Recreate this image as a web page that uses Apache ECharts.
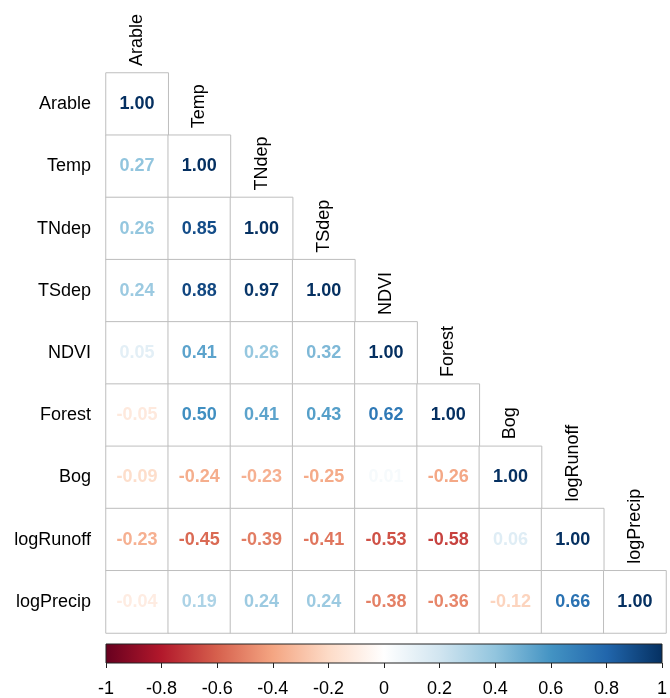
<!DOCTYPE html>
<html>
<head>
<meta charset="utf-8">
<script src="https://cdn.jsdelivr.net/npm/echarts@6/dist/echarts.min.js"></script>
<style>html,body{margin:0;padding:0;background:#fff}#c{width:670px;height:698px}</style>
</head>
<body>
<div id="c"></div>
<script>
var variables = ['Arable','Temp','TNdep','TSdep','NDVI','Forest','Bog','logRunoff','logPrecip'];
// lower-triangle correlation rows (row i has i+1 values, columns 0..i)
var rowArable   = [1.00];
var rowTemp     = [0.27, 1.00];
var rowTNdep    = [0.26, 0.85, 1.00];
var rowTSdep    = [0.24, 0.88, 0.97, 1.00];
var rowNDVI     = [0.05, 0.41, 0.26, 0.32, 1.00];
var rowForest   = [-0.05, 0.50, 0.41, 0.43, 0.62, 1.00];
var rowBog      = [-0.09, -0.24, -0.23, -0.25, 0.01, -0.26, 1.00];
var rowLogRunoff= [-0.23, -0.45, -0.39, -0.41, -0.53, -0.58, 0.06, 1.00];
var rowLogPrecip= [-0.04, 0.19, 0.24, 0.24, -0.38, -0.36, -0.12, 0.66, 1.00];
var corrRows = [rowArable,rowTemp,rowTNdep,rowTSdep,rowNDVI,rowForest,rowBog,rowLogRunoff,rowLogPrecip];
var colorbarTicks = [-1,-0.8,-0.6,-0.4,-0.2,0,0.2,0.4,0.6,0.8,1];
var palette = ['#67001F','#B2182B','#D6604D','#F4A582','#FDDBC7','#FFFFFF','#D1E5F0','#92C5DE','#4393C3','#2166AC','#053061'];

function hex2rgb(h){return [parseInt(h.substr(1,2),16),parseInt(h.substr(3,2),16),parseInt(h.substr(5,2),16)];}
function colorFor(v){
  var w = (v < 0 ? -1 : 1) * Math.pow(Math.abs(v), 0.7);
  var t = (w + 1) / 2 * (palette.length - 1);
  var i = Math.floor(t); if (i >= palette.length - 1) { i = palette.length - 2; }
  var f = t - i;
  var a = hex2rgb(palette[i]), b = hex2rgb(palette[i+1]);
  var c = a.map(function(x,k){return Math.round(x + (b[k]-x)*f);});
  return 'rgb(' + c.join(',') + ')';
}

var cells = [];
corrRows.forEach(function(row, r){
  row.forEach(function(v, c){
    cells.push({value:[c, r, v], label:{color: colorFor(v)}});
  });
});
var diag = variables.map(function(n,i){return [i,i];});

var stops = palette.map(function(c,i){return {offset:i/(palette.length-1), color:c};});

var chart = echarts.init(document.getElementById('c'));
var font = '"Liberation Sans", Arial, sans-serif';
chart.setOption({
  animation:false,
  backgroundColor:'#fff',
  grid:[
    {left:106, top:73, width:560, height:560},
    {left:106, top:644, width:560, height:22, show:true,
     backgroundColor:new echarts.graphic.LinearGradient(0,0,1,0,stops),
     borderColor:'#222', borderWidth:1}
  ],
  xAxis:[
    {type:'category', gridIndex:0, data:variables, show:false},
    {type:'value', gridIndex:1, min:-1, max:1, interval:0.2,
     axisLine:{show:false}, splitLine:{show:false},
     axisTick:{show:true, inside:false, length:5, lineStyle:{color:'#222'}},
     axisLabel:{color:'#000', fontFamily:font, fontSize:18, margin:17,
       formatter:function(v){var r=Math.round(v*10)/10; return colorbarTicks.indexOf(r)>=0 ? String(r) : '';}}}
  ],
  yAxis:[
    {type:'category', gridIndex:0, data:variables, inverse:true,
     axisLine:{show:false}, axisTick:{show:false}, splitLine:{show:false},
     axisLabel:{color:'#000', fontFamily:font, fontSize:18, margin:15}},
    {type:'value', gridIndex:1, min:0, max:1, show:false}
  ],
  series:[
    {type:'heatmap', xAxisIndex:0, yAxisIndex:0, data:cells,
     itemStyle:{color:'#fff', borderColor:'#bebebe', borderWidth:1},
     label:{show:true, fontFamily:font, fontSize:18, fontWeight:'bold',
       formatter:function(p){return p.value[2].toFixed(2);}},
     emphasis:{disabled:true}},
    {type:'custom', xAxisIndex:0, yAxisIndex:0, data:diag, silent:true,
     renderItem:function(params, api){
       var idx = api.value(0);
       var pt = api.coord([idx, api.value(1)]);
       var sz = api.size([1,1]);
       return {type:'text', x:pt[0], y:pt[1]-sz[1]/2-7, rotation:Math.PI/2,
         style:{text:variables[idx], fill:'#000', font:'18px ' + font, align:'left', verticalAlign:'middle'}};
     }},
    {type:'scatter', xAxisIndex:1, yAxisIndex:1, data:[], silent:true}
  ]
});
</script>
</body>
</html>
